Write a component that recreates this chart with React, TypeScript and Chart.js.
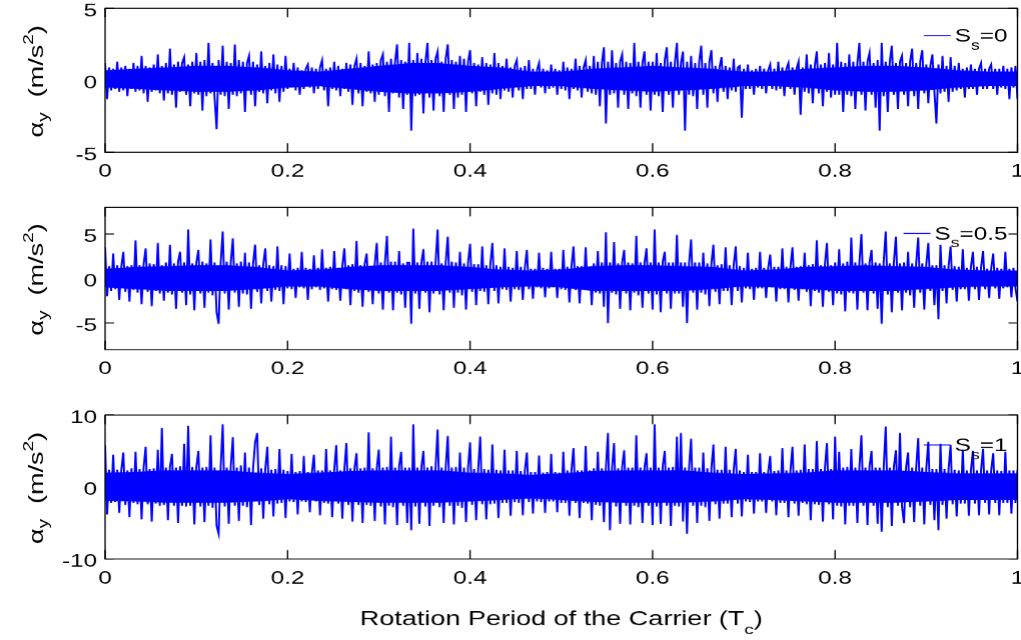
import React, { useEffect, useRef } from "react";
import { Chart, registerables } from "chart.js";

Chart.register(...registerables);

// Time axis: fraction of one carrier rotation period
const TIME_TICKS = [0, 0.2, 0.4, 0.6, 0.8, 1];
const TIME_TICK_LABELS = ["0", "0.2", "0.4", "0.6", "0.8", "1"];

// Vertical axes for the three cases
const Y_RANGE_S0 = [-5, 5];
const Y_RANGE_S05 = [-8, 8];
const Y_RANGE_S1 = [-10, 10];
const Y_TICKS_S0 = [-5, 0, 5];
const Y_TICKS_S05 = [-5, 0, 5];
const Y_TICKS_S1 = [-10, 0, 10];

// S_s value shown in each legend
const SS_VALUES = ["0", "0.5", "1"];

// Vertical acceleration over one carrier period, S_s = 0 (m/s^2)
const ACC_S0 = [
  1.2, -1.3, 0.9, -0.7, 0.8, -0.6, 1.3, -0.8, 0.9, -0.7, 1.0, -1.1, 0.8, -0.6, 1.2,
  -0.8, 1.0, -0.7, 1.7, -0.9, 1.0, -1.5, 0.9, -0.8, 1.1, -0.7, 1.8, -0.9, 1.0, -1.4,
  1.2, -0.9, 2.2, -1.0, 1.1, -1.9, 1.3, -0.8, 1.2, 1.6, -1.0, 1.1, -1.8, 1.3, -0.9,
  1.9, -1.0, 1.3, -2.1, 1.4, -1.1, 2.6, -0.9, 1.2, -1.2, -3.4, 1.4, -1.0, 2.4, -1.1,
  1.3, -2.0, 1.2, -1.0, 2.5, -1.1, 1.4, -0.9, 1.3, -2.2, 1.2, 1.7, -1.0, 1.3, -1.8,
  1.1, -0.8, 2.0, -0.9, 1.0, -1.6, 1.2, -0.7, 1.8, -0.9, 1.1, -1.5, 1.0, -0.8, 1.7,
  -0.6, 0.8, -0.5, 1.2, -0.7, 0.9, -1.0, 0.7, -0.6, 0.8, 1.1, -0.5, 0.9, -0.9, 0.8,
  -0.6, 0.9, 1.4, -0.7, 0.8, -1.8, 0.9, -0.6, 1.3, -0.7, 1.0, -1.1, 0.8, -0.6, 1.2,
  -0.8, 1.1, -1.7, 1.0, 1.5, -0.9, 1.2, -1.8, 1.0, -0.8, 2.0, -0.9, 1.1, -1.5, 1.2,
  -1.0, 1.4, 1.8, -1.1, 1.3, -2.2, 1.5, -0.9, 1.3, 2.5, -1.2, 1.4, -2.0, 1.3, -1.0,
  2.6, -3.5, 1.4, -1.1, 1.9, -1.0, 1.5, -2.3, 1.3, 2.6, -1.2, 1.4, -2.1, 1.5, 2.0,
  -1.1, 1.3, -2.2, 1.5, 2.5, -1.0, 1.4, -2.0, 1.3, -1.2, 1.7, -1.0, 1.5, -2.2, 1.3,
  2.1, -0.9, 1.2, -1.8, 1.1, -0.8, 1.6, -1.0, 1.2, -1.7, 1.1, -0.9, 1.9, -1.0, 1.2,
  -1.3, 1.0, -0.7, 1.5, -0.8, 0.9, -1.2, 1.0, 1.4, -0.7, 0.9, -1.3, 1.0, -0.6, 1.4,
  -0.6, 0.8, -1.0, 0.7, 1.2, -0.5, 0.8, -0.9, 0.7, -0.6, 1.1, -0.5, 0.8, -1.0, 0.7,
  -0.6, 1.3, -0.7, 0.9, -1.3, 0.8, -0.6, 1.5, -0.7, 1.0, -1.2, 0.9, 1.4, -0.8, 1.0,
  -0.9, 1.7, -1.0, 1.3, -1.8, 1.2, 2.3, -3.0, 1.3, -1.0, 2.1, -0.9, 1.2, -1.9, 1.3,
  1.8, -1.0, 1.3, -2.0, 1.2, -0.9, 2.6, -1.1, 1.3, -1.9, 1.2, 2.0, -1.0, 1.3, -2.1,
  1.3, -1.0, 1.9, -1.1, 1.2, -2.2, 1.4, 2.3, -1.0, 1.3, -1.9, 1.2, 2.6, -1.0, 1.2,
  2.0, -3.5, 1.3, -1.0, 1.7, -1.1, 1.2, -2.0, 1.3, 2.4, -1.0, 1.2, -1.9, 1.3, 2.1,
  -0.9, 1.0, -1.5, 0.9, 1.6, -0.8, 1.0, -1.3, 0.9, -0.7, 1.5, -0.8, 0.9, 1.0, -2.6,
  0.8, -0.6, 1.1, -0.6, 0.7, -1.0, 0.8, -0.5, 1.0, -0.6, 0.8, -0.9, 0.7, 1.1, -0.6,
  0.8, -0.7, 1.3, -0.6, 0.9, -1.1, 0.8, 1.2, -0.6, 0.9, -1.0, 0.8, 1.3, -2.4, 0.9,
  -0.8, 1.8, -0.9, 1.1, -1.6, 1.0, 2.0, -0.9, 1.1, -1.8, 1.2, -0.8, 1.9, -1.2, 1.1,
  -1.0, 2.6, -1.0, 1.3, -2.2, 1.2, -1.0, 1.8, -1.1, 1.3, -2.0, 1.2, 2.6, -1.0, 1.3,
  -2.1, 1.3, 1.9, -1.0, 1.2, -1.9, 1.4, -3.5, 2.6, -1.1, 1.3, -2.2, 1.3, 2.4, -1.0,
  1.2, -2.0, 1.3, 1.7, -1.0, 1.2, -1.8, 1.3, 2.2, -1.1, 1.2, -2.0, 1.3, 2.1, -0.9,
  1.1, -1.6, 1.0, 1.8, -0.8, -3.0, 1.1, -0.9, 1.7, -0.8, 1.0, -1.5, 1.6, -0.8, 1.0,
  -0.7, 1.2, -0.6, 0.8, -1.2, 0.9, -0.6, 1.1, -0.6, 0.8, -1.0, 0.8, 1.2, -0.6, 0.8,
  -0.6, 0.8, 1.1, -0.6, 0.8, -1.0, 0.8, -0.5, 1.0, -0.6, 0.8, -1.3, 0.9, -0.5, 1.0,
  -1.3,
];

// Dense core of the S_s = 0 signal, upper and lower edge every 1/30 period (m/s^2)
const CORE_HI_S0 = [0.7, 0.8, 0.9, 1.0, 1.0, 0.9, 0.7, 0.6, 0.8, 1.0, 1.2, 1.2, 1.0, 0.9, 0.6, 0.6, 0.8, 0.9, 1.0, 0.9, 0.8, 0.6, 0.6, 0.8, 0.9, 1.0, 1.0, 0.9, 0.7, 0.6, 0.6];
const CORE_LO_S0 = [-0.5, -0.6, -0.7, -0.8, -0.8, -0.7, -0.5, -0.4, -0.6, -0.8, -0.9, -0.9, -0.8, -0.6, -0.4, -0.4, -0.6, -0.7, -0.8, -0.7, -0.6, -0.4, -0.4, -0.5, -0.7, -0.8, -0.8, -0.7, -0.5, -0.4, -0.4];

// Vertical acceleration over one carrier period, S_s = 0.5 (m/s^2)
const ACC_S05 = [
  3.5, -2.0, 1.4, -1.4, 2.8, -1.2, 1.5, -2.4, 1.3, 3.0, -1.5, 1.4, -2.6, 1.5, -1.3,
  4.3, -1.6, 1.5, -2.9, 1.6, 3.4, -1.5, 1.7, -3.1, 1.6, -1.4, 4.0, -1.7, 1.5, -2.5,
  1.8, -1.6, 3.8, -1.8, 1.7, -3.4, 1.9, 3.0, -1.6, 1.8, -3.0, 5.5, -1.8, 1.7, -3.6,
  1.8, 3.2, -1.7, 1.9, -3.3, 1.7, -1.6, 4.4, -1.9, 1.8, -3.8, -5.1, 1.7, 5.3, -1.7,
  1.9, -3.5, 1.8, 4.5, -1.6, 1.7, -3.2, 1.9, -1.7, 2.9, -1.8, 1.8, -3.4, 1.7, 3.8,
  -1.5, 1.5, -2.8, 1.6, 3.4, -1.4, 1.5, -2.6, 1.4, -1.3, 3.6, -1.4, 1.5, -2.9, 1.4,
  -1.1, 2.8, -1.2, 1.1, -2.2, 1.2, -1.0, 3.0, -1.1, 1.2, -2.4, 1.1, -1.2, 2.6, -1.0,
  1.2, -1.3, 3.3, -1.1, 1.2, -2.6, 1.3, -1.2, 3.1, -1.3, 1.2, -2.5, 1.4, 3.4, -1.2,
  1.5, -3.0, 1.6, -1.4, 4.2, -1.6, 1.5, -3.2, 1.6, 2.8, -1.5, 1.4, -2.9, 1.6, 4.0,
  -1.7, 1.8, -3.5, 1.8, 4.8, -1.6, 1.9, -3.6, 1.9, -1.6, 3.1, -1.8, 1.7, -3.3, 1.8,
  1.8, -5.1, 5.6, -1.7, 1.8, -3.4, 1.8, 3.3, -1.6, 1.9, -3.8, 1.9, -1.7, 1.8, 5.5,
  -1.8, 1.7, -3.6, 1.8, 4.7, -1.6, 1.9, -3.3, 1.8, -1.6, 3.0, -1.9, 1.7, -3.5, 1.8,
  3.9, -1.5, 1.6, -3.0, 1.6, -1.4, 3.6, -1.5, 1.5, -2.9, 1.6, 4.0, -1.4, 1.5, -2.8,
  1.3, -1.2, 3.4, -1.3, 1.3, -2.6, 1.2, -1.2, 3.1, -1.3, 1.3, -2.4, 1.2, 3.2, -1.2,
  1.1, -2.3, 1.1, -1.0, 2.9, -1.1, 1.2, -2.1, 1.1, -1.1, 3.0, -1.0, 1.1, -2.2, 1.1,
  -1.2, 3.2, -1.3, 1.3, -2.7, 1.3, 3.6, -1.3, 1.4, -2.8, 1.4, -1.2, 3.5, -1.3, 1.3,
  -3.0, 1.7, -1.6, 3.1, -1.7, 1.8, -3.2, 5.2, -5.0, 1.8, -1.6, 4.1, -1.8, 1.7, -3.4,
  1.8, 3.2, -1.7, 1.8, -3.6, 1.7, -1.6, 4.8, -1.9, 1.8, -3.3, 1.7, 3.4, -1.7, 1.8,
  -3.5, 5.5, -1.8, 1.8, -3.8, 1.9, 3.0, -1.7, 1.8, -3.4, 1.8, -1.7, 4.9, -1.7, 1.8,
  -3.2, 1.8, -5.0, 1.7, 4.4, -1.6, 1.8, -3.5, 1.8, -1.6, 2.9, -1.8, 1.7, -3.1, 1.7,
  3.8, -1.5, 1.5, -2.9, 1.6, -1.4, 3.5, -1.4, 1.5, -3.0, 1.5, 3.6, -1.4, 1.4, -2.7,
  1.2, -1.1, 2.9, -1.2, 1.1, -2.4, 1.2, -1.1, 3.0, -1.1, 1.2, -2.2, 1.2, 2.7, -1.0,
  1.3, -2.6, 1.3, -1.2, 3.4, -1.2, 1.3, -2.7, 1.3, 3.5, -1.3, 1.3, -2.5, 1.4, -1.2,
  2.9, -1.5, 1.5, -3.1, 1.6, -1.4, 4.3, -1.6, 1.5, -3.2, 1.6, 4.0, -1.5, 1.5, -3.0,
  1.8, -1.7, 3.3, -1.8, 1.7, -3.7, 1.9, -1.6, 4.6, -1.7, 1.8, -3.5, 1.8, 5.0, -1.6,
  1.7, -3.6, 1.8, 3.2, -1.7, 1.8, -3.4, 1.7, -5.1, 1.9, 5.3, -1.8, 1.7, -3.8, 1.8,
  4.7, -1.6, 1.7, -3.6, 1.8, -1.6, 3.0, -1.9, 1.7, -3.3, 1.7, 4.6, -1.6, 1.7, -3.5,
  1.6, 4.0, -1.4, 1.5, -3.0, 1.5, -4.6, 3.8, -1.4, 1.5, -2.8, 1.4, 3.6, -1.3, 1.4,
  -2.6, 1.3, -1.2, 3.3, -1.2, 1.2, -2.5, 1.3, 3.0, -1.2, 1.3, -2.4, 1.2, 3.1, -1.2,
  1.1, -2.2, 1.1, 2.8, -1.1, 1.2, -2.3, 1.1, -1.1, 3.0, -1.0, 1.1, -2.1, 1.2, -1.1,
  -2.6,
];

// Dense core of the S_s = 0.5 signal (m/s^2)
const CORE_HI_S05 = [1.1, 1.3, 1.4, 1.5, 1.5, 1.3, 0.9, 1.0, 1.3, 1.5, 1.5, 1.5, 1.3, 1.0, 0.9, 1.0, 1.4, 1.5, 1.5, 1.4, 1.3, 0.9, 1.0, 1.3, 1.4, 1.5, 1.4, 1.3, 1.0, 0.9, 0.9];
const CORE_LO_S05 = [-1.0, -1.2, -1.4, -1.4, -1.4, -1.2, -0.9, -0.9, -1.2, -1.4, -1.4, -1.4, -1.2, -1.0, -0.9, -1.0, -1.4, -1.4, -1.4, -1.4, -1.2, -0.9, -1.0, -1.2, -1.4, -1.4, -1.4, -1.2, -1.0, -0.9, -0.9];

// Vertical acceleration over one carrier period, S_s = 1 (m/s^2)
const ACC_S1 = [
  5.8, -3.8, 2.4, -2.2, 4.5, -2.1, 2.4, -3.6, 2.3, 4.8, -2.5, 2.3, -4.2, 2.6, -2.2,
  4.9, -2.4, 2.5, -4.5, 2.7, 5.6, -2.4, 2.5, -4.8, 2.6, -2.3, 5.2, -2.6, 8.2, -2.5,
  2.7, -4.6, 2.8, 4.6, -2.6, 2.7, -5.0, 2.9, -2.6, 6.0, -2.7, 8.5, -2.6, 2.8, -5.2,
  2.8, 5.0, -2.7, 2.7, -4.9, 2.8, -2.6, 7.2, -2.9, 2.7, -5.4, -6.5, 2.7, 8.7, -2.7,
  2.7, -5.1, 2.9, 6.9, -2.6, 2.7, -4.7, 3.0, -2.6, 4.8, -2.8, 2.7, -5.3, 2.6, 6.2,
  7.5, -2.5, 2.6, -4.4, 2.5, 5.6, -2.4, 2.4, -4.1, 2.5, -2.3, 5.3, -2.2, 2.4, -4.3,
  2.2, -2.0, 4.6, -2.1, 2.1, -3.8, 2.2, -2.0, 4.3, -2.1, 2.1, -3.5, 2.0, 4.5, -2.0,
  2.3, -3.9, 2.3, -2.2, 5.3, -2.3, 2.3, -4.2, 2.4, 5.8, -2.3, 2.3, -4.4, 2.4, 6.1,
  -2.5, 2.6, -4.8, 2.6, 4.7, -2.5, 2.6, -5.0, 2.7, -2.5, 7.6, -2.6, 2.6, -4.7, 2.6,
  5.2, -2.7, 2.7, -5.2, 2.8, -2.6, 7.0, -2.8, 2.7, -5.3, 2.9, 4.9, -2.6, 2.7, -5.0,
  2.7, -6.0, 8.7, -2.7, 2.7, -5.1, 2.8, 5.0, -2.7, 2.7, -5.4, 2.9, -2.6, 2.7, 8.0,
  -2.8, 2.7, -5.0, 2.7, 7.1, -2.6, 2.7, -5.2, 2.8, -2.6, 4.8, -2.9, 2.7, -4.9, 2.7,
  6.2, -2.5, 2.5, -4.6, 2.5, 7.0, -2.4, 2.5, -4.5, 2.4, -2.4, 5.9, -2.3, 2.4, -4.3,
  2.3, -2.2, 5.2, -2.2, 2.3, -4.0, 2.3, -2.1, 5.0, -2.2, 2.2, -3.9, 2.3, 4.8, -2.1,
  2.1, -3.7, 2.1, -2.0, 4.4, -2.1, 2.0, -3.6, 2.1, -2.0, 4.6, -2.0, 2.1, -3.5, 2.0,
  -2.2, 4.9, -2.2, 2.3, -4.0, 2.3, 5.4, -2.2, 2.3, -4.3, 2.3, -2.2, 5.7, -2.3, 2.3,
  -4.6, 2.6, -2.5, 4.9, -2.6, 2.6, -4.9, 2.7, 7.5, -6.0, 2.6, 6.1, -2.7, 2.6, -5.1,
  2.8, 5.1, -2.6, 2.7, -5.2, 2.7, -2.6, 7.2, -2.8, 2.7, -5.0, 2.7, 4.7, -2.6, 2.7,
  -5.3, 8.7, -2.7, 2.7, -5.1, 2.9, 5.0, -2.6, 2.7, -5.4, 2.8, -2.6, 7.0, -2.7, 7.5,
  -4.8, 2.7, -6.5, 2.7, 6.7, -2.6, 2.7, -5.0, 2.7, -2.6, 4.8, -2.8, 2.6, -4.7, 2.6,
  5.9, -2.4, 2.4, -4.4, 2.4, -2.3, 5.6, -2.3, 2.4, -4.2, 2.4, 5.3, -2.3, 2.3, -4.1,
  2.1, -2.0, 4.5, -2.1, 2.1, -3.7, 2.1, -2.0, 4.7, -2.0, 2.1, -3.6, 2.1, 4.3, -2.0,
  2.2, -3.9, 2.3, -2.2, 5.4, -2.2, 2.3, -4.2, 2.3, 5.6, -2.3, 2.3, -4.0, 2.4, -2.2,
  5.9, -2.4, 2.5, -4.6, 2.5, -2.4, 6.4, -2.5, 2.5, -4.8, 2.6, 6.1, -2.4, 2.5, -4.5,
  7.0, -2.6, 4.9, -2.7, 2.7, -5.2, 2.8, -2.6, 5.3, -2.6, 2.7, -5.0, 2.7, 7.2, -2.6,
  2.7, -5.3, 2.9, 5.0, -2.6, 2.7, -5.1, 2.7, -6.2, 2.7, 8.4, -2.8, 2.7, -5.4, 2.8,
  5.1, -2.6, 7.5, -2.7, -5.0, 2.7, 4.8, -2.8, 2.7, -4.9, 2.7, 6.8, -2.6, 2.7, -5.2,
  2.6, 6.3, -2.5, 2.5, -4.6, 2.5, -6.0, 6.0, -2.5, 2.5, -4.4, 2.5, 5.8, -2.4, 2.4,
  -4.1, 2.3, -2.3, 5.2, -2.3, 2.3, -4.0, 2.3, 5.0, -2.3, 2.3, -3.9, 2.3, 5.3, -2.2,
  2.3, -3.8, 2.3, 4.7, -2.2, 2.3, -3.9, 2.2, -2.2, 4.9, -2.2, 2.3, -3.7, 2.3, -2.2,
  2.4,
];

// Dense core of the S_s = 1 signal (m/s^2)
const CORE_HI_S1 = [2.0, 2.1, 2.3, 2.3, 2.3, 2.0, 1.8, 2.0, 2.2, 2.3, 2.3, 2.3, 2.0, 1.9, 1.7, 1.9, 2.2, 2.3, 2.3, 2.3, 2.0, 1.8, 1.9, 2.0, 2.3, 2.3, 2.3, 2.1, 1.9, 1.9, 1.9];
const CORE_LO_S1 = [-1.9, -2.0, -2.2, -2.2, -2.2, -2.0, -1.7, -1.9, -2.1, -2.2, -2.2, -2.2, -2.0, -1.8, -1.6, -1.8, -2.1, -2.2, -2.2, -2.2, -2.0, -1.7, -1.8, -2.0, -2.2, -2.2, -2.2, -2.0, -1.8, -1.8, -1.8];

// ---- drawing setup ----
// The plot is laid out in a coordinate space that is widened by STRETCH on screen.
const STRETCH = 1.35;
const VIEW_W = 756;
const PLOT_LEFT = 105 / STRETCH;
const PLOT_RIGHT = 1016.5 / STRETCH;
const FONT = '"Liberation Sans", Arial, Helvetica, sans-serif';
const LINE_BLUE = "#0000ff";

type Run = { text: string; size: number; dy: number };

type PanelDef = {
  id: string;
  values: number[];
  coreHi: number[];
  coreLo: number[];
  yRange: number[];
  yTicks: number[];
  ss: string;
  top: number;
  height: number;
  plotTop: number;
  plotBottom: number;
  legendDy: number;
  showXTitle: boolean;
};

const PANELS: PanelDef[] = [
  { id: "s0", values: ACC_S0, coreHi: CORE_HI_S0, coreLo: CORE_LO_S0, yRange: Y_RANGE_S0, yTicks: Y_TICKS_S0, ss: SS_VALUES[0], top: 0, height: 190, plotTop: 8.3, plotBottom: 152, legendDy: 27, showXTitle: false },
  { id: "s05", values: ACC_S05, coreHi: CORE_HI_S05, coreLo: CORE_LO_S05, yRange: Y_RANGE_S05, yTicks: Y_TICKS_S05, ss: SS_VALUES[1], top: 190, height: 210, plotTop: 17.3, plotBottom: 159.3, legendDy: 26, showXTitle: false },
  { id: "s1", values: ACC_S1, coreHi: CORE_HI_S1, coreLo: CORE_LO_S1, yRange: Y_RANGE_S1, yTicks: Y_TICKS_S1, ss: SS_VALUES[2], top: 400, height: 240, plotTop: 15, plotBottom: 159, legendDy: 30, showXTitle: true },
];

function runsWidth(ctx: CanvasRenderingContext2D, runs: Run[]) {
  return runs.map((r) => {
    ctx.font = `${r.size}px ${FONT}`;
    return ctx.measureText(r.text).width;
  });
}

function drawRuns(ctx: CanvasRenderingContext2D, runs: Run[], x: number, y: number, align: "left" | "center" | "right") {
  const widths = runsWidth(ctx, runs);
  const total = widths.reduce((s, w) => s + w, 0);
  let cx = align === "center" ? x - total / 2 : align === "right" ? x - total : x;
  ctx.textAlign = "left";
  ctx.textBaseline = "alphabetic";
  runs.forEach((r, i) => {
    ctx.font = `${r.size}px ${FONT}`;
    ctx.fillText(r.text, cx, y + r.dy);
    cx += widths[i];
  });
}

const Y_TITLE: Run[] = [
  { text: "\u03b1", size: 20, dy: 0 },
  { text: "y", size: 14, dy: 5 },
  { text: "  (m/s", size: 20, dy: 0 },
  { text: "2", size: 14, dy: -10 },
  { text: ")", size: 20, dy: 0 },
];

const X_TITLE: Run[] = [
  { text: "Rotation Period of the Carrier (T", size: 20, dy: 0 },
  { text: "c", size: 14, dy: 9 },
  { text: ")", size: 20, dy: 0 },
];

function makeAxesPlugin(panel: PanelDef) {
  return {
    id: "matlabAxes",
    beforeDatasetsDraw(chart: any) {
      const { ctx, chartArea: a, scales } = chart;
      ctx.save();
      ctx.strokeStyle = "#000";
      ctx.lineWidth = 1;
      ctx.beginPath();
      const tickV = 9;
      const tickH = 9 / STRETCH;
      for (const t of TIME_TICKS) {
        const px = scales.x.getPixelForValue(t);
        ctx.moveTo(px, a.top);
        ctx.lineTo(px, a.top + tickV);
        ctx.moveTo(px, a.bottom);
        ctx.lineTo(px, a.bottom - tickV);
      }
      for (const v of panel.yTicks) {
        const py = scales.y.getPixelForValue(v);
        ctx.moveTo(a.left, py);
        ctx.lineTo(a.left + tickH, py);
        ctx.moveTo(a.right, py);
        ctx.lineTo(a.right - tickH, py);
      }
      ctx.stroke();
      ctx.restore();
    },
    afterDatasetsDraw(chart: any) {
      const { ctx, chartArea: a, scales } = chart;
      ctx.save();
      // axes box
      ctx.strokeStyle = "#000";
      ctx.lineWidth = 1;
      ctx.strokeRect(a.left, a.top, a.right - a.left, a.bottom - a.top);

      ctx.fillStyle = "#000";
      // x tick labels
      TIME_TICKS.forEach((t, i) => {
        const px = scales.x.getPixelForValue(t);
        drawRuns(ctx, [{ text: TIME_TICK_LABELS[i], size: 18, dy: 0 }], px, a.bottom + 24.5, "center");
      });
      // y tick labels
      panel.yTicks.forEach((v) => {
        const py = scales.y.getPixelForValue(v);
        drawRuns(ctx, [{ text: String(v), size: 18, dy: 0 }], 97 / STRETCH, py + 8, "right");
      });

      // y axis title (rotated, widened along its reading direction)
      ctx.save();
      ctx.translate(43 / STRETCH, (a.top + a.bottom) / 2 + 1);
      ctx.rotate(-Math.PI / 2);
      ctx.scale(STRETCH, 1 / STRETCH);
      drawRuns(ctx, Y_TITLE, 0, 0, "center");
      ctx.restore();

      // legend
      const legendRuns: Run[] = [
        { text: "S", size: 18, dy: 0 },
        { text: "s", size: 13, dy: 8 },
        { text: "=" + panel.ss, size: 18, dy: 0 },
      ];
      const textW = runsWidth(ctx, legendRuns).reduce((s, w) => s + w, 0);
      const textRight = a.right - 10 / STRETCH;
      const textLeft = textRight - textW;
      const lineY = a.top + panel.legendDy;
      ctx.strokeStyle = LINE_BLUE;
      ctx.lineWidth = 1;
      ctx.beginPath();
      ctx.moveTo(textLeft - 31 / STRETCH, lineY);
      ctx.lineTo(textLeft - 4 / STRETCH, lineY);
      ctx.stroke();
      ctx.fillStyle = "#000";
      drawRuns(ctx, legendRuns, textLeft, lineY + 6, "left");

      if (panel.showXTitle) {
        drawRuns(ctx, X_TITLE, (a.left + a.right) / 2, a.bottom + 66, "center");
      }
      ctx.restore();
    },
  };
}

const toSeries = (arr: number[]) => arr.map((v, i) => ({ x: i / (arr.length - 1), y: v }));

function SignalPanel({ panel }: { panel: PanelDef }) {
  const ref = useRef<HTMLCanvasElement>(null);
  useEffect(() => {
    const canvas = ref.current;
    if (!canvas) return;
    const chart = new Chart(canvas, {
      type: "line",
      data: {
        datasets: [
          {
            label: "S_s=" + panel.ss,
            data: toSeries(panel.values),
            borderColor: LINE_BLUE,
            borderWidth: 1.45,
            pointRadius: 0,
            tension: 0,
            fill: false,
          },
          {
            label: "core upper",
            data: toSeries(panel.coreHi),
            borderColor: LINE_BLUE,
            borderWidth: 0,
            pointRadius: 0,
            tension: 0,
            fill: false,
          },
          {
            label: "core lower",
            data: toSeries(panel.coreLo),
            borderColor: LINE_BLUE,
            backgroundColor: LINE_BLUE,
            borderWidth: 0,
            pointRadius: 0,
            tension: 0,
            fill: "-1",
          },
        ],
      },
      options: {
        animation: false,
        responsive: false,
        maintainAspectRatio: false,
        devicePixelRatio: STRETCH,
        events: [],
        layout: {
          padding: {
            left: PLOT_LEFT,
            right: VIEW_W - PLOT_RIGHT,
            top: panel.plotTop,
            bottom: panel.height - panel.plotBottom,
          },
        },
        scales: {
          x: { type: "linear", min: 0, max: 1, display: false },
          y: { type: "linear", min: panel.yRange[0], max: panel.yRange[1], display: false },
        },
        plugins: {
          legend: { display: false },
          tooltip: { enabled: false },
          title: { display: false },
          filler: { propagate: false },
        },
      },
      plugins: [makeAxesPlugin(panel)],
    } as any);
    return () => chart.destroy();
  }, [panel]);

  return (
    <canvas
      ref={ref}
      width={VIEW_W}
      height={panel.height}
      style={{
        position: "absolute",
        left: 0,
        top: panel.top,
        width: `${VIEW_W * STRETCH}px`,
        height: `${panel.height}px`,
        display: "block",
      }}
    />
  );
}

export default function App() {
  return (
    <div style={{ position: "absolute", left: 0, top: 0, width: 1021, height: 640, background: "#fff", overflow: "hidden" }}>
      {PANELS.map((p) => (
        <SignalPanel key={p.id} panel={p} />
      ))}
    </div>
  );
}
